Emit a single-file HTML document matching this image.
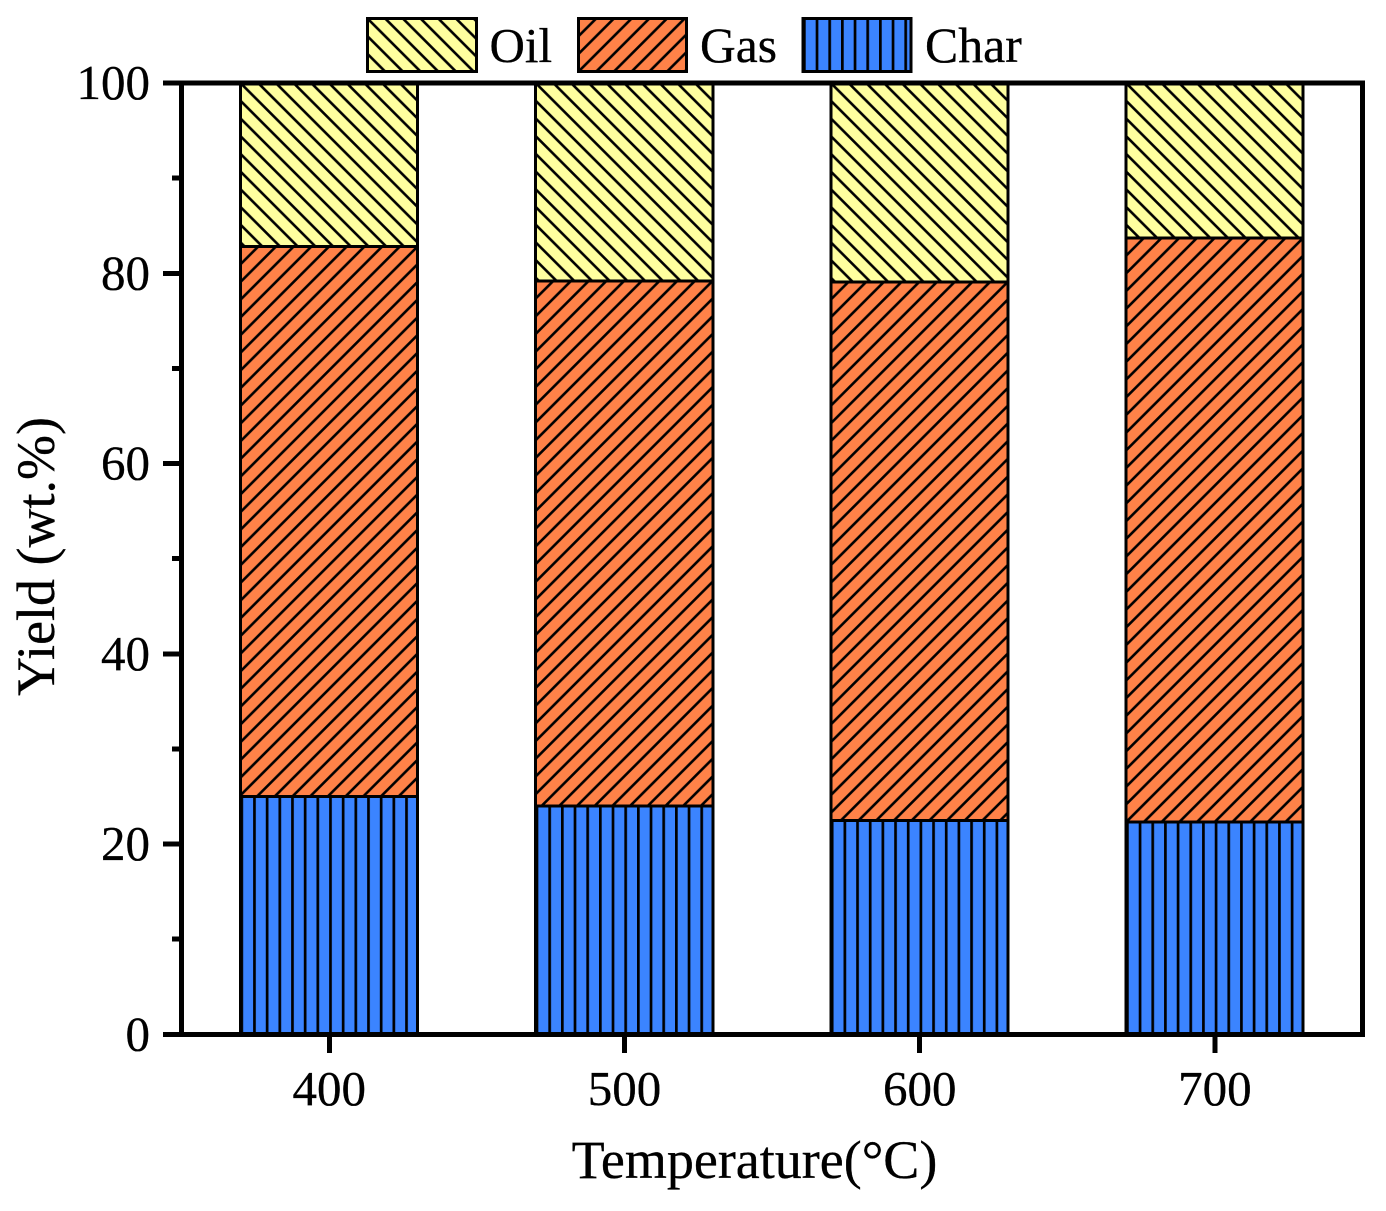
<!DOCTYPE html>
<html>
<head>
<meta charset="utf-8">
<title>Yield vs Temperature</title>
<style>
html,body{margin:0;padding:0;background:#fff;width:1386px;height:1211px;overflow:hidden}
svg{display:block}
text{font-family:"Liberation Serif",serif;fill:#000;stroke:#000;stroke-width:.3}
</style>
</head>
<body>
<svg id="chart" xmlns="http://www.w3.org/2000/svg" width="1386" height="1211" viewBox="0 0 1386 1211">
<defs id="defs">
<pattern id="hatch-oil" patternUnits="userSpaceOnUse" width="17.7" height="17.7" x="367.5" y="18.5">
<rect width="17.7" height="17.7" fill="#ffff9f"/>
<path d="M-4.4,-4.4L22.1,22.1M-4.4,13.3L4.4,22.1M13.3,-4.4L22.1,4.4" stroke="#000" stroke-width="2.6"/>
</pattern>
<pattern id="hatch-gas" patternUnits="userSpaceOnUse" width="17.7" height="17.7" x="578.5" y="18.5">
<rect width="17.7" height="17.7" fill="#ff8248"/>
<path d="M-4.4,22.1L22.1,-4.4M-4.4,4.4L4.4,-4.4M13.3,22.1L22.1,13.3" stroke="#000" stroke-width="2.6"/>
</pattern>
<pattern id="hatch-char" patternUnits="userSpaceOnUse" width="12.67" height="20" x="803" y="0">
<rect width="12.67" height="20" fill="#3b84ff"/>
<rect x="0" width="2.7" height="20" fill="#000"/>
</pattern>
</defs>
<g id="bars"></g>
<g id="axes"></g>
<text x="754.5" y="1178" font-size="54" text-anchor="middle">Temperature(°C)</text>
<text transform="translate(54,556.5) rotate(-90)" font-size="54" text-anchor="middle">Yield (wt.%)</text>
<g>
<rect x="367.5" y="18.5" width="109" height="53" fill="url(#hatch-oil)" stroke="#000" stroke-width="3" shape-rendering="crispEdges"/>
<text x="489.5" y="62" font-size="49">Oil</text>
<rect x="578.5" y="18.5" width="108" height="53" fill="url(#hatch-gas)" stroke="#000" stroke-width="3" shape-rendering="crispEdges"/>
<text x="700" y="62" font-size="49.5">Gas</text>
<rect x="803" y="18.5" width="108" height="53" fill="url(#hatch-char)" stroke="#000" stroke-width="3" shape-rendering="crispEdges"/>
<text x="925" y="62" font-size="49.8">Char</text>
</g>
</svg>
<script>
const categories = [400, 500, 600, 700];
const charValues = [25.0, 24.0, 22.5, 22.3];
const gasValues = [57.8, 55.2, 56.6, 61.4];
const oilValues = [17.2, 20.8, 20.9, 16.3];
const yTickLabels = [0, 20, 40, 60, 80, 100];
const yMinorTicks = [10, 30, 50, 70, 90];

const NS = 'http://www.w3.org/2000/svg';
const xScale = function (v) { return 181.7 + (v - 350) * (1362.5 - 181.7) / 400; };
const yScale = function (v) { return 1034.3 + (83 - 1034.3) * v / 100; };
const barsGroup = document.getElementById('bars');
const axesGroup = document.getElementById('axes');
const defsEl = document.getElementById('defs');

function make(tag, parent, props) {
  const el = document.createElementNS(NS, tag);
  Object.keys(props).forEach(function (k) { el.setAttribute(k, props[k]); });
  parent.appendChild(el);
  return el;
}

function drawSegment(cat, start, value, hatch) {
  const left = xScale(cat - 30.1);
  const right = xScale(cat + 29.9);
  const top = yScale(start + value);
  const bottom = yScale(start);
  const localId = hatch + '-' + cat;
  const tile = document.getElementById(hatch).cloneNode(true);
  tile.setAttribute('id', localId);
  tile.setAttribute('x', left);
  tile.setAttribute('y', top);
  defsEl.appendChild(tile);
  const seg = make('rect', barsGroup, {
    x: left,
    y: top,
    width: right - left,
    height: bottom - top,
    fill: 'url(#' + localId + ')',
    stroke: '#000',
    'stroke-width': 3,
    'shape-rendering': 'crispEdges'
  });
  return seg;
}

categories.forEach(function (cat, i) {
  const charBar = drawSegment(cat, 0, charValues[i], 'hatch-char');
  
  
  const gasBar = drawSegment(cat, charValues[i], gasValues[i], 'hatch-gas');
  
  
  const oilBar = drawSegment(cat, charValues[i] + gasValues[i], oilValues[i], 'hatch-oil');
  
  
});

const frame = make('rect', axesGroup, {
  x: xScale(350), y: yScale(100),
  width: xScale(750) - xScale(350),
  height: yScale(0) - yScale(100),
  fill: 'none', stroke: '#000', 'stroke-width': 5,
  'shape-rendering': 'crispEdges'
});



yTickLabels.forEach(function (v) {
  const y = yScale(v);
  const tick = make('line', axesGroup, { x1: 163, x2: xScale(350), y1: y, y2: y, stroke: '#000', 'stroke-width': 5, 'shape-rendering': 'crispEdges' });
  
  
  const label = make('text', axesGroup, { x: 150, y: y + 16, 'font-size': 49, 'text-anchor': 'end' });
  label.textContent = v;
  
  
});

yMinorTicks.forEach(function (v) {
  const y = yScale(v);
  const tick = make('line', axesGroup, { x1: 172, x2: xScale(350), y1: y, y2: y, stroke: '#000', 'stroke-width': 5, 'shape-rendering': 'crispEdges' });
  
  
});

categories.forEach(function (cat) {
  const x = xScale(cat);
  const tick = make('line', axesGroup, { x1: x, x2: x, y1: yScale(0), y2: 1053, stroke: '#000', 'stroke-width': 5, 'shape-rendering': 'crispEdges' });
  
  
  const label = make('text', axesGroup, { x: x, y: 1105, 'font-size': 49, 'text-anchor': 'middle' });
  label.textContent = cat;
  
  
});
</script>
</body>
</html>
